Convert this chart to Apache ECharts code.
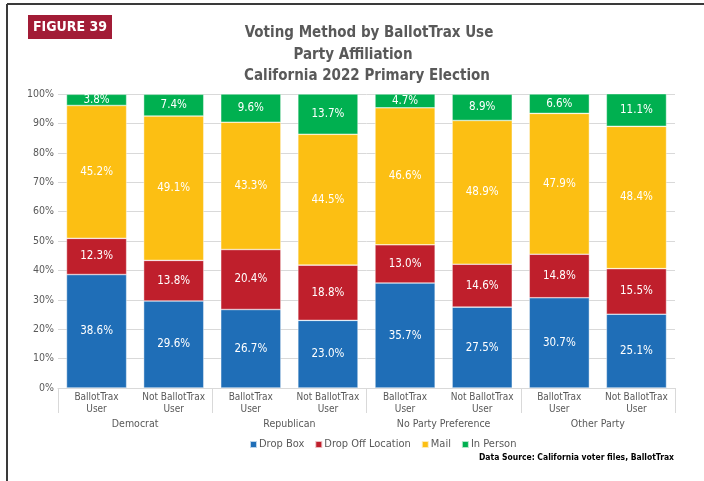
<!DOCTYPE html>
<html><head><meta charset="utf-8">
<script src="https://cdn.jsdelivr.net/npm/echarts@6/dist/echarts.min.js"></script>
<style>html,body{margin:0;padding:0;background:#fff}#c{width:704px;height:481px}</style>
</head><body><div id="c"></div>
<script>
const categories = ['BallotTrax\nUser','Not BallotTrax\nUser','BallotTrax\nUser','Not BallotTrax\nUser','BallotTrax\nUser','Not BallotTrax\nUser','BallotTrax\nUser','Not BallotTrax\nUser'];
const groups = ['Democrat','Republican','No Party Preference','Other Party'];
const dropBox = [38.6,29.6,26.7,23.0,35.7,27.5,30.7,25.1];
const dropOff = [12.3,13.8,20.4,18.8,13.0,14.6,14.8,15.5];
const mail = [45.2,49.1,43.3,44.5,46.6,48.9,47.9,48.4];
const inPerson = [3.8,7.4,9.6,13.7,4.7,8.9,6.6,11.1];
const seriesNames = ['Drop Box','Drop Off Location','Mail','In Person'];
const colors = ['#1F6EB7','#BF1F2C','#FCBF13','#00B050'];

const FONT = '"DejaVu Sans Condensed",sans-serif';
const chart = echarts.init(document.getElementById('c'), null, {renderer:'canvas'});
const vals = [dropBox, dropOff, mail, inPerson];
const TS = {fontFamily:FONT,fontSize:15,fontWeight:'bold',color:'#595959'};
const option = {
  animation:false,
  textStyle:{fontFamily:FONT},
  title:[
    {text:'Voting Method by BallotTrax Use', left:364, top:21, textAlign:'center', textStyle:TS},
    {text:'Party Affiliation', left:348, top:43, textAlign:'center', textStyle:TS},
    {text:'California 2022 Primary Election', left:362, top:64, textAlign:'center', textStyle:TS}
  ],
  graphic:[
    {type:'line', shape:{x1:7,y1:4,x2:704,y2:4}, style:{stroke:'#3a3a3a',lineWidth:2}},
    {type:'line', shape:{x1:7,y1:4,x2:7,y2:481}, style:{stroke:'#3a3a3a',lineWidth:2}},
    {type:'rect', shape:{x:28,y:15,width:84,height:24}, style:{fill:'#A21C36'}},
    {type:'text', x:70, y:27, style:{text:'FIGURE 39', fill:'#fff', font:'bold 14px '+FONT, textAlign:'center', textVerticalAlign:'middle'}},
    {type:'text', x:674, y:458, style:{text:'Data Source: California voter files, BallotTrax', fill:'#000', font:'bold 8.5px '+FONT, textAlign:'right', textVerticalAlign:'middle'}}
  ],
  legend:{
    data:seriesNames, left:244, top:434, icon:'rect', itemWidth:7, itemHeight:7, itemGap:10,
    textStyle:{fontFamily:FONT,fontSize:11,color:'#595959', padding:[0,0,0,-3]}
  },
  grid:{left:58, right:29, top:94, bottom:93},
  xAxis:[
    {type:'category', data:categories, axisLine:{lineStyle:{color:'#d9d9d9'}}, axisTick:{show:false},
     axisLabel:{interval:0, color:'#595959', fontFamily:FONT, fontSize:10, lineHeight:12.5, margin:3}},
    {type:'category', data:groups, position:'bottom', axisLine:{show:false},
     axisTick:{show:true, length:25, lineStyle:{color:'#d9d9d9'}},
     axisLabel:{interval:0, color:'#595959', fontFamily:FONT, fontSize:10.5, margin:31}}
  ],
  yAxis:{type:'value', min:0, max:100, interval:10,
    axisLabel:{formatter:'{value}%', color:'#595959', fontFamily:FONT, fontSize:10.5, margin:4},
    splitLine:{lineStyle:{color:'#d9d9d9'}}, axisLine:{show:false}, axisTick:{show:false}},
  series: seriesNames.map((n,i)=>({
    name:n, type:'bar', stack:'t', xAxisIndex:0, barWidth:'78%',
    data:vals[i],
    itemStyle:{color:colors[i], borderColor:'rgba(255,255,255,0.7)', borderWidth:0.6},
    label:{show:true, position:'inside', color:'#fff', fontFamily:FONT, fontSize:11.5, formatter:p=>p.value.toFixed(1)+'%'}
  }))
};
chart.setOption(option);
</script></body></html>
